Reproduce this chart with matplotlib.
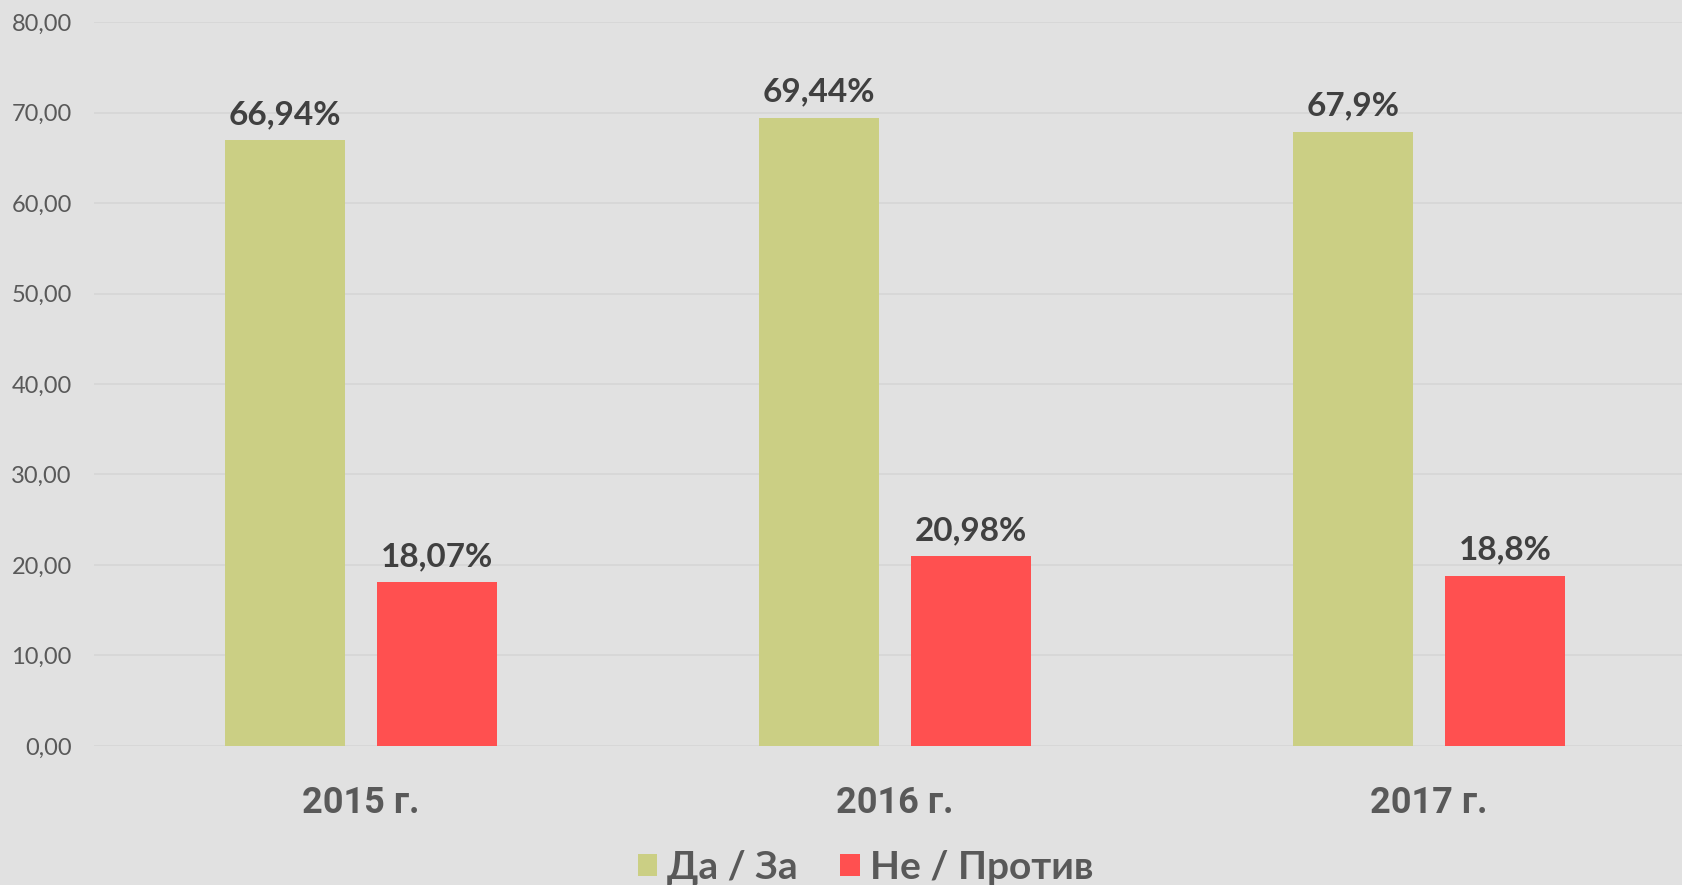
"""Grouped bar chart - yes / no answers by year, on a light gray background."""

import matplotlib

matplotlib.use("Agg")
import matplotlib.pyplot as plt
import numpy as np
from matplotlib.patches import Patch

# Data
years = ["2015 г.", "2016 г.", "2017 г."]
series_names = ["Да / За", "Не / Против"]
yes_values = [66.94, 69.44, 67.9]
no_values = [18.07, 20.98, 18.8]
y_ticks = [0, 10, 20, 30, 40, 50, 60, 70, 80]

# Style
BG = "#e1e1e1"
GREEN = "#cbcf84"
RED = "#ff5050"
GRID = "#d5d5d5"
TICK_TEXT = "#595959"
LABEL_TEXT = "#404040"

fig = plt.figure(figsize=(16.82, 8.85), dpi=100, facecolor=BG)
ax = fig.add_axes([0.0559, 0.1571, 0.9524, 0.818])
ax.set_facecolor(BG)

x = np.arange(len(years))
width = 0.225
offset = 0.1425

bars_yes = ax.bar(x - offset, yes_values, width, color=GREEN, zorder=3)
bars_no = ax.bar(x + offset, no_values, width, color=RED, zorder=3)

# Value labels above the bars
for bars, values in ((bars_yes, yes_values), (bars_no, no_values)):
    for bar, v in zip(bars, values):
        ax.annotate(
            f"{v:g}".replace(".", ",") + "%",
            xy=(bar.get_x() + bar.get_width() / 2, v),
            xytext=(0, 8),
            textcoords="offset points",
            ha="center",
            va="bottom",
            fontsize=24,
            fontweight="bold",
            family="Lato",
            color=LABEL_TEXT,
        )

ax.set_xlim(-0.5, len(years) - 0.5)
ax.set_ylim(0, 80)
ax.set_yticks(y_ticks)
ax.set_yticklabels(
    [f"{t:.2f}".replace(".", ",") for t in y_ticks],
    fontsize=17,
    family="Lato",
    color=TICK_TEXT,
)
ax.set_xticks(x)
ax.set_xticklabels(years, fontsize=26, fontweight="bold", family="Roboto", color=TICK_TEXT)
ax.tick_params(axis="y", length=0, pad=16)
ax.tick_params(axis="x", length=0, pad=28)

ax.grid(axis="y", color=GRID, linewidth=1.2, zorder=0)
for spine in ax.spines.values():
    spine.set_visible(False)

handles = [Patch(facecolor=GREEN), Patch(facecolor=RED)]
fig.legend(
    handles,
    series_names,
    loc="center",
    bbox_to_anchor=(0.5145, 0.02),
    ncol=2,
    frameon=False,
    handlelength=0.5,
    handleheight=0.5,
    handletextpad=0.25,
    columnspacing=1.1,
    prop={"family": "Lato", "weight": "bold", "size": 28},
    labelcolor=TICK_TEXT,
)

fig.savefig("out.png", dpi=100, facecolor=BG)
